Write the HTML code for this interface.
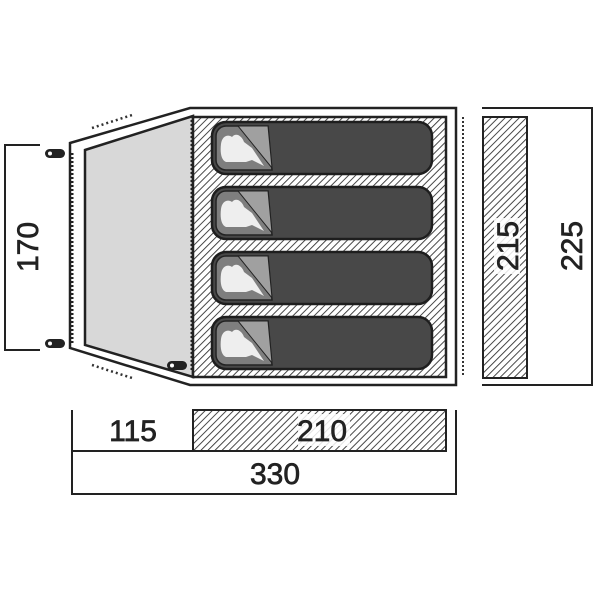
<!DOCTYPE html>
<html><head><meta charset="utf-8"><style>
html,body{margin:0;padding:0;background:#fff;width:600px;height:600px;overflow:hidden}
text{font-family:"Liberation Sans",sans-serif;fill:#222;stroke:#222;stroke-width:0.7}
</style></head><body>
<svg width="600" height="600" viewBox="0 0 600 600" xmlns="http://www.w3.org/2000/svg">
<defs>
<pattern id="h" patternUnits="userSpaceOnUse" width="5" height="5" patternTransform="rotate(45)">
<rect width="5" height="5" fill="#fff"/><line x1="0" y1="0" x2="0" y2="5" stroke="#333" stroke-width="1.8"/>
</pattern>
<g id="bag">
<rect x="0" y="0" width="220" height="52" rx="14" fill="#484848" stroke="#1e1e1e" stroke-width="2.5"/>
<path d="M14 4 H56 L60 48 H14 A10 10 0 0 1 4 38 V14 A10 10 0 0 1 14 4Z" fill="#7e7e7e" stroke="#222" stroke-width="1.5"/>
<path d="M26 4 L56 4 L60 46 Z" fill="#a0a0a0" stroke="#222" stroke-width="1"/>
<path d="M9 22 C10 14 16 12 20 15 C24 10 30 14 32 20 L40 26 L52 44 L40 38 L34 40 L14 40 C9 38 8 30 9 22Z" fill="#eee"/>
</g>
</defs>
<polygon points="70,143 190,108 456,108 456,385 190,385 70,348" fill="#fff" stroke="#222" stroke-width="2.5"/>
<polygon points="85,150 193,116 193,377 85,345" fill="#d8d8d8" stroke="#222" stroke-width="2.5"/>
<rect x="193" y="117" width="253" height="260" fill="url(#h)" stroke="#222" stroke-width="2.5"/>
<use href="#bag" x="212" y="122"/>
<use href="#bag" x="212" y="187"/>
<use href="#bag" x="212" y="252"/>
<use href="#bag" x="212" y="317"/>
<line x1="72" y1="153" x2="72" y2="343" stroke="#222" stroke-width="3" stroke-dasharray="2,2"/>
<line x1="192" y1="120" x2="192" y2="372" stroke="#222" stroke-width="3" stroke-dasharray="2,2"/>
<line x1="463" y1="117" x2="463" y2="377" stroke="#333" stroke-width="2" stroke-dasharray="2,2"/>
<line x1="92" y1="128" x2="132" y2="115" stroke="#333" stroke-width="2.5" stroke-dasharray="2,3"/>
<line x1="92" y1="365" x2="132" y2="378" stroke="#333" stroke-width="2.5" stroke-dasharray="2,3"/>
<rect x="45" y="149" width="20" height="9" rx="4.5" fill="#222"/><circle cx="50" cy="153.5" r="2" fill="#fff"/>
<rect x="45" y="339" width="20" height="9" rx="4.5" fill="#222"/><circle cx="50" cy="343.5" r="2" fill="#fff"/>
<rect x="167" y="361" width="20" height="9" rx="4.5" fill="#222"/><circle cx="172" cy="365.5" r="2" fill="#fff"/>
<polyline points="40,145 5,145 5,350 40,350" fill="none" stroke="#222" stroke-width="2"/>
<text transform="translate(38,247) rotate(-90)" font-size="30" text-anchor="middle">170</text>
<polyline points="482,108 592,108 592,385 482,385" fill="none" stroke="#222" stroke-width="2"/>
<rect x="483" y="117" width="44" height="261" fill="url(#h)" stroke="#222" stroke-width="2"/>
<rect x="494" y="218" width="26" height="56" fill="#fff" opacity="0.85"/>
<text transform="translate(518,246) rotate(-90)" font-size="30" text-anchor="middle">215</text>
<text transform="translate(582,246) rotate(-90)" font-size="30" text-anchor="middle">225</text>
<rect x="193" y="410" width="253" height="41" fill="url(#h)" stroke="#222" stroke-width="2"/>
<rect x="298" y="414" width="52" height="32" fill="#fff" opacity="0.85"/>
<polyline points="72,410 72,494 456,494 456,410" fill="none" stroke="#222" stroke-width="2"/>
<line x1="72" y1="451" x2="446" y2="451" stroke="#222" stroke-width="2"/>
<text x="133" y="441" font-size="30" text-anchor="middle">115</text>
<text x="322" y="441" font-size="30" text-anchor="middle">210</text>
<text x="275" y="484" font-size="30" text-anchor="middle">330</text>
</svg>
</body></html>
